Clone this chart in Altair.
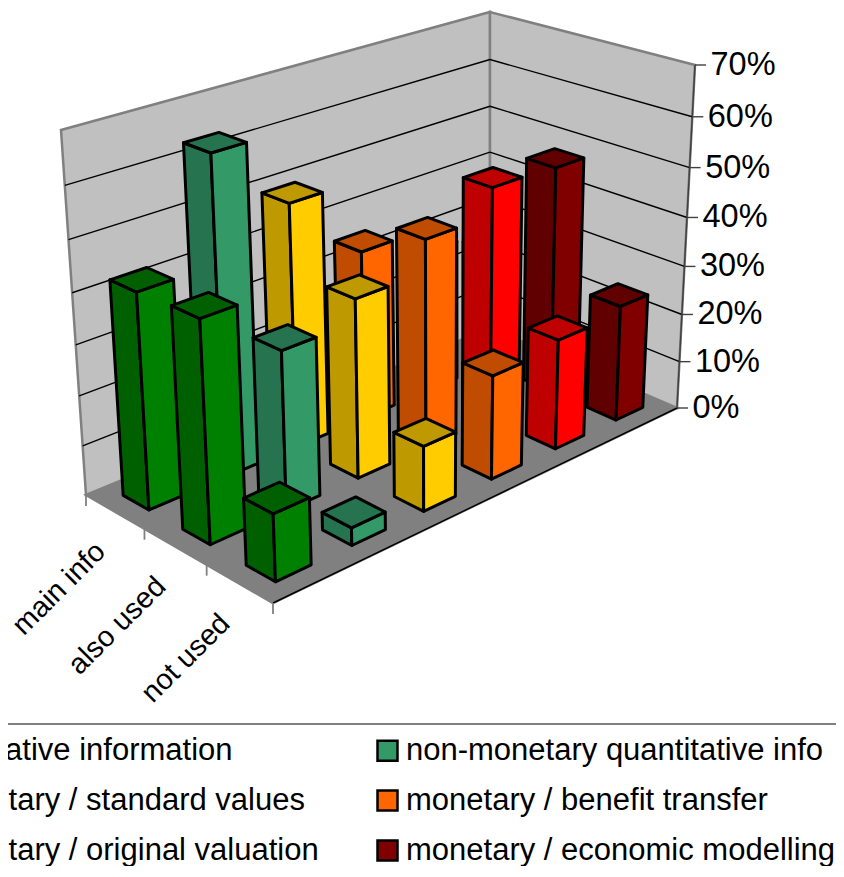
import altair as alt
import numpy as np

series = ["qualitative information", "monetary / standard values", "monetary / original valuation",
          "non-monetary quantitative info", "monetary / benefit transfer", "monetary / economic modelling"]
legend_colors = ["#008000", "#FFCC00", "#FF0000", "#339966", "#FF6600", "#800000"]
categories = ["main info", "also used", "not used"]
main_info = [42.5, 63.5, 49.5, 35, 30, 25]
also_used = [43, 31.5, 36, 42.5, 48, 47.5]
not_used = [13, 3.5, 13, 21, 22.5, 24]
front_colors = ["#008000", "#339966", "#FFCC00", "#FF6600", "#FF0000", "#800000"]
side_colors = ["#006000", "#267350", "#BF9900", "#BF4C00", "#BF0000", "#600000"]
ticks = [0, 10, 20, 30, 40, 50, 60, 70]

# camera: world (series, category, percent) -> screen
world = [(0, 0, 0), (0, 3, 0), (6, 3, 0), (6, 0, 0), (0, 0, 70), (6, 0, 70), (6, 3, 70)]
screen = [(86, 495), (273, 603), (677, 408), (490, 328), (61, 130), (490, 12), (695, 65)]
A, b = [], []
for (X, Y, Z), (u, v) in zip(world, screen):
    A.append([X, Y, Z, 1, 0, 0, 0, 0, -u * X, -u * Y, -u * Z])
    A.append([0, 0, 0, 0, X, Y, Z, 1, -v * X, -v * Y, -v * Z])
    b += [u, v]
h = np.linalg.lstsq(np.array(A, float), np.array(b, float), rcond=None)[0]


def H(X, Y, Z):
    w = h[8] * X + h[9] * Y + h[10] * Z + 1
    return np.array([(h[0] * X + h[1] * Y + h[2] * Z + h[3]) / w,
                     (h[4] * X + h[5] * Y + h[6] * Z + h[7]) / w])


# what the single camera cannot reach at the box corners is spread over the box
resid = {c: np.array(s, float) - H(*c) for c, s in zip(world, screen)}
resid[(0, 3, 70)] = (resid[(0, 3, 0)] + resid[(0, 0, 70)] + resid[(6, 3, 70)]) / 3


def P(X, Y, Z):
    x, y, z = X / 6, Y / 3, Z / 70
    out = H(X, Y, Z)
    for cx, wx in ((0, 1 - x), (6, x)):
        for cy, wy in ((0, 1 - y), (3, y)):
            for cz, wz in ((0, 1 - z), (70, z)):
                out = out + wx * wy * wz * resid[(cx, cy, cz)]
    return [float(out[0] - 8), float(out[1] - 8)]


def poly(pts, fill, stroke="#000000"):
    ring = [P(*p) for p in pts]
    ring.append(ring[0])
    return {"type": "Feature", "geometry": {"type": "Polygon", "coordinates": [ring]},
            "properties": {"fill": fill, "stroke": stroke}}


def line(a, b_, stroke):
    return {"type": "Feature",
            "geometry": {"type": "LineString", "coordinates": [a, b_]},
            "properties": {"stroke": stroke}}


walls = [
    poly([(0, 0, 0), (6, 0, 0), (6, 3, 0), (0, 3, 0)], "#808080", "#808080"),
    poly([(0, 0, 0), (6, 0, 0), (6, 0, 70), (0, 0, 70)], "#C0C0C0", "#808080"),
    poly([(6, 0, 0), (6, 3, 0), (6, 3, 70), (6, 0, 70)], "#C0C0C0", "#808080"),
]

grid = []
for t in ticks[1:-1]:
    grid.append(line(P(0, 0, t), P(6, 0, t), "#000000"))
    grid.append(line(P(6, 0, t), P(6, 3, t), "#000000"))
grid.append(line(P(0, 3, 0), P(6, 3, 0), "#000000"))
grid.append(line(P(6, 3, 0), P(6, 3, 70), "#404040"))
for t in ticks:
    a = P(6, 3, t)
    grid.append(line(a, [a[0] + 11, a[1]], "#404040"))
minor = []
for y in range(4):
    a = P(0, y, 0)
    minor.append(line(a, [a[0], a[1] + 11], "#808080"))
minor.append(line([-8, 716], [836, 716], "#808080"))

W = 0.46
D = 0.44
faces = []
rows = [main_info, also_used, not_used]
for j, row in enumerate(rows):
    for i in range(5, -1, -1):
        v = row[i]
        x0, x1 = i + (1 - W) / 2, i + (1 + W) / 2
        y0, y1 = j + (1 - D) / 2, j + (1 + D) / 2
        faces.append(poly([(x0, y0, 0), (x0, y1, 0), (x0, y1, v), (x0, y0, v)], side_colors[i]))
        faces.append(poly([(x0, y1, 0), (x1, y1, 0), (x1, y1, v), (x0, y1, v)], front_colors[i]))
        faces.append(poly([(x0, y0, v), (x1, y0, v), (x1, y1, v), (x0, y1, v)], side_colors[i]))

proj = dict(type="identity", scale=1, translate=[0, 0])

legend = alt.Legend(orient="none", legendX=-127, legendY=711, columns=2, title=None,
                    symbolType="square", symbolSize=400, symbolStrokeColor="#000000",
                    symbolStrokeWidth=2.5, labelFont="Liberation Sans", labelFontSize=31,
                    labelLimit=600, labelColor="#000000", labelOffset=3)
key = alt.Chart(alt.Data(values=[{"s": s} for s in series])).mark_square(size=30, filled=True, opacity=1).encode(
    color=alt.Color("s:N", scale=alt.Scale(domain=series, range=legend_colors),
                    sort=series, legend=legend))

wall_layer = alt.Chart(alt.Data(values=walls)).mark_geoshape(strokeWidth=2.5).encode(
    fill=alt.Fill("properties.fill:N", scale=None),
    stroke=alt.Stroke("properties.stroke:N", scale=None)).project(**proj)
grid_layer = alt.Chart(alt.Data(values=grid)).mark_geoshape(filled=False, strokeWidth=1.4).encode(
    stroke=alt.Stroke("properties.stroke:N", scale=None)).project(**proj)
minor_layer = alt.Chart(alt.Data(values=minor)).mark_geoshape(filled=False, strokeWidth=1.8).encode(
    stroke=alt.Stroke("properties.stroke:N", scale=None)).project(**proj)
bar_layer = alt.Chart(alt.Data(values=faces)).mark_geoshape(strokeWidth=3, strokeJoin="round").encode(
    fill=alt.Fill("properties.fill:N", scale=None),
    stroke=alt.Stroke("properties.stroke:N", scale=None)).project(**proj)

tick_rows = [{"x": P(6, 3, t)[0], "y": P(6, 3, t)[1], "label": f"{t}%"} for t in ticks]
tick_text = alt.Chart(alt.Data(values=tick_rows)).mark_text(
    align="left", baseline="middle", dx=15.5, font="Liberation Sans", fontSize=32.5, color="#000000").encode(
    x=alt.X("x:Q", scale=None, axis=None), y=alt.Y("y:Q", scale=None, axis=None), text="label:N")

cat_rows = [{"x": P(0, j + 0.5, 0)[0], "y": P(0, j + 0.5, 0)[1], "label": c} for j, c in enumerate(categories)]
cat_text = alt.Chart(alt.Data(values=cat_rows)).mark_text(
    align="right", baseline="middle", angle=315, dx=-35, dy=15, font="Liberation Sans", fontSize=29,
    color="#000000").encode(
    x=alt.X("x:Q", scale=None, axis=None), y=alt.Y("y:Q", scale=None, axis=None), text="label:N")

chart = alt.layer(key, wall_layer, grid_layer, minor_layer, bar_layer, tick_text, cat_text).properties(
    width=828, height=858, padding=0, autosize=alt.AutoSizeParams(type="none"),
    background="#FFFFFF").configure_view(stroke=None).configure_legend(
    columnPadding=53, rowPadding=18, padding=16)

chart.save("out.html", embed_options={"renderer": "svg", "actions": False})
